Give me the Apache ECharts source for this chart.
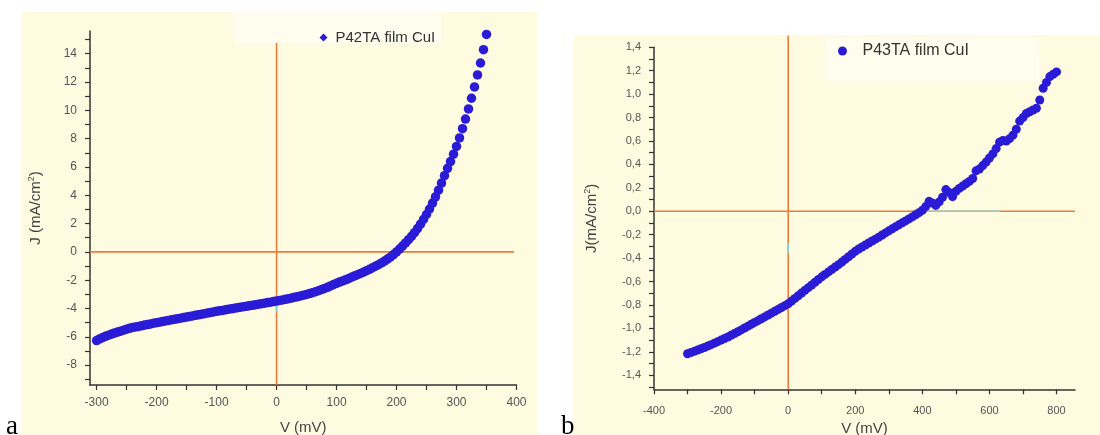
<!DOCTYPE html>
<html><head><meta charset="utf-8">
<script src="https://cdn.jsdelivr.net/npm/echarts@6/dist/echarts.min.js"></script>
<style>html,body{margin:0;padding:0;background:#fff}#c{width:1100px;height:435px}</style>
</head><body><div id="c"></div>
<script>
// ---- Panel a: P42TA film CuI ----
const leftName = 'P42TA film CuI';
const leftV = [-300,-295,-290,-285,-280,-275,-270,-265,-260,-255,-250,-245,-240,-235,-230,-225,-220,-215,-210,-205,
  -200,-195,-190,-185,-180,-175,-170,-165,-160,-155,-150,-145,-140,-135,-130,-125,-120,-115,-110,-105,
  -100,-95,-90,-85,-80,-75,-70,-65,-60,-55,-50,-45,-40,-35,-30,-25,-20,-15,-10,-5,
  0,5,10,15,20,25,30,35,40,45,50,55,60,65,70,75,80,85,90,95,
  100,105,110,115,120,125,130,135,140,145,150,155,160,165,170,175,180,185,190,195,
  200,205,210,215,220,225,230,235,240,245,250,255,260,265,270,275,280,285,290,295,
  300,305,310,315,320,325,330,335,340,345,350];
const leftJ = [-6.26,-6.15,-6.05,-5.96,-5.88,-5.80,-5.73,-5.66,-5.60,-5.53,-5.46,-5.40,-5.34,-5.30,-5.26,-5.22,-5.17,-5.13,-5.09,-5.04,
  -5.00,-4.96,-4.92,-4.88,-4.84,-4.80,-4.76,-4.72,-4.68,-4.64,-4.60,-4.56,-4.52,-4.48,-4.44,-4.40,-4.36,-4.32,-4.28,-4.24,
  -4.20,-4.16,-4.13,-4.09,-4.05,-4.02,-3.98,-3.94,-3.91,-3.87,-3.84,-3.80,-3.77,-3.73,-3.69,-3.66,-3.62,-3.58,-3.55,-3.51,
  -3.47,-3.43,-3.39,-3.35,-3.31,-3.26,-3.21,-3.16,-3.11,-3.06,-3.00,-2.94,-2.88,-2.81,-2.74,-2.66,-2.58,-2.50,-2.40,-2.31,
  -2.22,-2.13,-2.05,-1.97,-1.88,-1.79,-1.70,-1.61,-1.52,-1.43,-1.33,-1.23,-1.12,-1.01,-0.90,-0.78,-0.65,-0.51,-0.36,-0.19,
  0.00,0.20,0.41,0.63,0.86,1.10,1.36,1.65,1.96,2.29,2.64,3.03,3.45,3.89,4.36,4.86,5.38,5.90,6.38,6.90,
  7.45,8.05,8.70,9.38,10.10,10.85,11.65,12.50,13.34,14.28,15.36];
const leftXTicks = [-300,-250,-200,-150,-100,-50,0,50,100,150,200,250,300,350,400];
const leftXLabels = [-300,-200,-100,0,100,200,300,400];
const leftYTicks = [-9,-8,-7,-6,-5,-4,-3,-2,-1,0,1,2,3,4,5,6,7,8,9,10,11,12,13,14,15];
const leftYLabels = [-8,-6,-4,-2,0,2,4,6,8,10,12,14];
const leftZeroH = [[-311,0],[396,0]];
const leftZeroV = [[0,-9.4],[0,14.75]];
const leftCyanV = [[0,-3.6],[0,-4.2]];
const leftCyanH = [[190,0],[210,0]];

// ---- Panel b: P43TA film CuI ----
const rightName = 'P43TA film CuI';
const rightV = [-300,-290,-280,-270,-260,-250,-240,-230,-220,-210,-200,-190,-180,-170,-160,-150,-140,-130,-120,-110,
  -100,-90,-80,-70,-60,-50,-40,-30,-20,-10,0,10,20,30,40,50,60,70,80,90,
  100,110,120,130,140,150,160,170,180,190,200,210,220,230,240,250,260,270,280,290,
  300,310,320,330,340,350,360,370,380,390,400,410,420,430,440,450,460,470,480,490,
  500,510,520,530,540,550,560,570,580,590,600,610,620,630,640,650,660,670,680,690,
  700,710,720,730,740,750,760,770,780,790,800];
const rightJ = [-1.216,-1.206,-1.196,-1.185,-1.174,-1.163,-1.151,-1.139,-1.126,-1.113,-1.100,-1.087,-1.073,-1.059,-1.044,-1.029,-1.013,-0.997,-0.981,-0.965,
  -0.949,-0.934,-0.918,-0.902,-0.886,-0.870,-0.854,-0.838,-0.822,-0.806,-0.790,-0.767,-0.744,-0.721,-0.698,-0.675,-0.652,-0.629,-0.606,-0.583,
  -0.560,-0.539,-0.518,-0.497,-0.476,-0.456,-0.434,-0.411,-0.388,-0.365,-0.342,-0.322,-0.305,-0.288,-0.271,-0.254,-0.238,-0.221,-0.203,-0.185,
  -0.167,-0.150,-0.133,-0.116,-0.099,-0.082,-0.065,-0.048,-0.030,-0.012,0.009,0.040,0.085,0.070,0.050,0.080,0.120,0.185,0.160,0.125,
  0.170,0.195,0.215,0.235,0.255,0.280,0.345,0.360,0.390,0.420,0.455,0.490,0.535,0.590,0.605,0.600,0.620,0.650,0.700,0.770,
  0.800,0.835,0.850,0.865,0.880,0.950,1.050,1.100,1.150,1.170,1.190];
const rightXTicks = [-400,-300,-200,-100,0,100,200,300,400,500,600,700,800];
const rightXLabels = [-400,-200,0,200,400,600,800];
const rightYTicks = [-1.5,-1.4,-1.3,-1.2,-1.1,-1.0,-0.9,-0.8,-0.7,-0.6,-0.5,-0.4,-0.3,-0.2,-0.1,0,0.1,0.2,0.3,0.4,0.5,0.6,0.7,0.8,0.9,1.0,1.1,1.2,1.3,1.4];
const rightYLabels = [-1.4,-1.2,-1.0,-0.8,-0.6,-0.4,-0.2,0,0.2,0.4,0.6,0.8,1.0,1.2,1.4];
const rightZeroH = [[-400,0],[855,0]];
const rightZeroV = [[0,-1.52],[0,1.5]];
const rightCyanH = [[413,0],[631,0]];
const rightCyanV = [[0,-0.27],[0,-0.36]];

const FONT = '"Liberation Sans", Arial, sans-serif';
const BLUE = '#2a1bd6';
const ORANGE = '#f07a3a';
const CYAN = '#7fd8d8';
const AXC = '#333';

const zip = (a, b) => a.map((v, i) => [v, b[i]]);

function refLine(data, xi, color, z) {
  return { type: 'line', xAxisIndex: xi, yAxisIndex: xi, data: data, symbol: 'none', silent: true,
    clip: false, z: z, lineStyle: { color: color, width: 1.6 }, emphasis: { disabled: true }, animation: false };
}

function xAxisCfg(gi, min, max, ticks, labels, labelSize, margin, nameGap) {
  return {
    type: 'value', gridIndex: gi, min: min, max: max,
    axisLine: { show: true, onZero: false, lineStyle: { color: AXC, width: 1.5 } },
    axisTick: { show: true, customValues: ticks, length: 5, lineStyle: { color: AXC, width: 1.2 } },
    axisLabel: { customValues: labels, fontSize: labelSize, color: '#555', margin: margin, fontFamily: FONT },
    splitLine: { show: false },
    name: 'V (mV)', nameLocation: 'middle', nameGap: nameGap,
    nameTextStyle: { fontSize: 15, color: '#444', fontFamily: FONT }
  };
}
function yAxisCfg(gi, min, max, ticks, labels, labelSize, fmt, name, nameGap) {
  return {
    type: 'value', gridIndex: gi, min: min, max: max,
    axisLine: { show: true, onZero: false, lineStyle: { color: AXC, width: 1.5 } },
    axisTick: { show: true, customValues: ticks, length: 5, lineStyle: { color: AXC, width: 1.2 } },
    axisLabel: { customValues: labels, fontSize: labelSize, color: '#555', margin: 13, fontFamily: FONT, formatter: fmt },
    splitLine: { show: false },
    name: name, nameLocation: 'middle', nameGap: nameGap,
    nameTextStyle: { fontSize: 15, color: '#444', fontFamily: FONT,
      rich: { sup: { fontSize: 9, color: '#444', fontFamily: FONT, verticalAlign: 'top', padding: [0, 0, 8, 0] } } }
  };
}

const chart = echarts.init(document.getElementById('c'), null, { renderer: 'canvas' });
chart.setOption({
  animation: false,
  backgroundColor: '#ffffff',
  textStyle: { fontFamily: FONT },
  graphic: [
    { type: 'rect', z: -10, silent: true, shape: { x: 22, y: 12, width: 515, height: 423 }, style: { fill: '#fffbe0' } },
    { type: 'rect', z: -10, silent: true, shape: { x: 574, y: 35, width: 526, height: 400 }, style: { fill: '#fffbe0' } },
    { type: 'rect', z: -9, silent: true, shape: { x: 234, y: 12, width: 207, height: 31 }, style: { fill: '#fffdee' } },
    { type: 'rect', z: -9, silent: true, shape: { x: 825, y: 38, width: 214, height: 43 }, style: { fill: '#fffdee' } },
    { type: 'text', silent: true, style: { text: 'a', x: 6, y: 440, font: '27px "Liberation Serif", "Times New Roman", serif', fill: '#000', textVerticalAlign: 'bottom' } },
    { type: 'text', silent: true, style: { text: 'b', x: 561, y: 440, font: '27px "Liberation Serif", "Times New Roman", serif', fill: '#000', textVerticalAlign: 'bottom' } }
  ],
  grid: [
    { left: 90, top: 31, width: 426.5, height: 354, outerBoundsMode: 'none', containLabel: false },
    { left: 654, top: 47.3, width: 421, height: 342, outerBoundsMode: 'none', containLabel: false }
  ],
  xAxis: [
    xAxisCfg(0, -311, 400, leftXTicks, leftXLabels, 12, 12, 35),
    xAxisCfg(1, -400, 855, rightXTicks, rightXLabels, 11, 16, 32)
  ],
  yAxis: [
    yAxisCfg(0, -9.4, 15.6, leftYTicks, leftYLabels, 12, v => String(Math.round(v)), 'J (mA/cm{sup|2})', 46),
    yAxisCfg(1, -1.52, 1.4, rightYTicks, rightYLabels, 11, v => v.toFixed(1).replace('.', ','), 'J(mA/cm{sup|2})', 54)
  ],
  legend: [
    { data: [{ name: leftName, icon: 'diamond' }], left: 319.5, top: 30, padding: 0, itemWidth: 8, itemHeight: 8,
      textStyle: { fontSize: 15, color: '#333', fontFamily: FONT, padding: [0, 0, 0, 3] }, selectedMode: false },
    { data: [{ name: rightName, icon: 'circle' }], left: 838, top: 43, padding: 0, itemWidth: 30, itemHeight: 9,
      textStyle: { fontSize: 16, color: '#333', fontFamily: FONT }, selectedMode: false }
  ],
  series: [
    refLine(leftZeroH, 0, ORANGE, 1),
    refLine(leftZeroV, 0, ORANGE, 1),
    refLine(leftCyanV, 0, CYAN, 2),
    refLine(leftCyanH, 0, '#4fb59a', 2),
    refLine(rightZeroH, 1, ORANGE, 1),
    refLine(rightZeroV, 1, ORANGE, 1),
    refLine(rightCyanH, 1, CYAN, 2),
    refLine(rightCyanV, 1, CYAN, 2),
    { type: 'scatter', name: leftName, xAxisIndex: 0, yAxisIndex: 0, data: zip(leftV, leftJ),
      symbol: 'circle', symbolSize: 9.5, itemStyle: { color: BLUE, opacity: 1 }, z: 5 },
    { type: 'scatter', name: rightName, xAxisIndex: 1, yAxisIndex: 1, data: zip(rightV, rightJ),
      symbol: 'circle', symbolSize: 9, itemStyle: { color: BLUE, opacity: 1 }, z: 5 }
  ]
});
</script></body></html>
